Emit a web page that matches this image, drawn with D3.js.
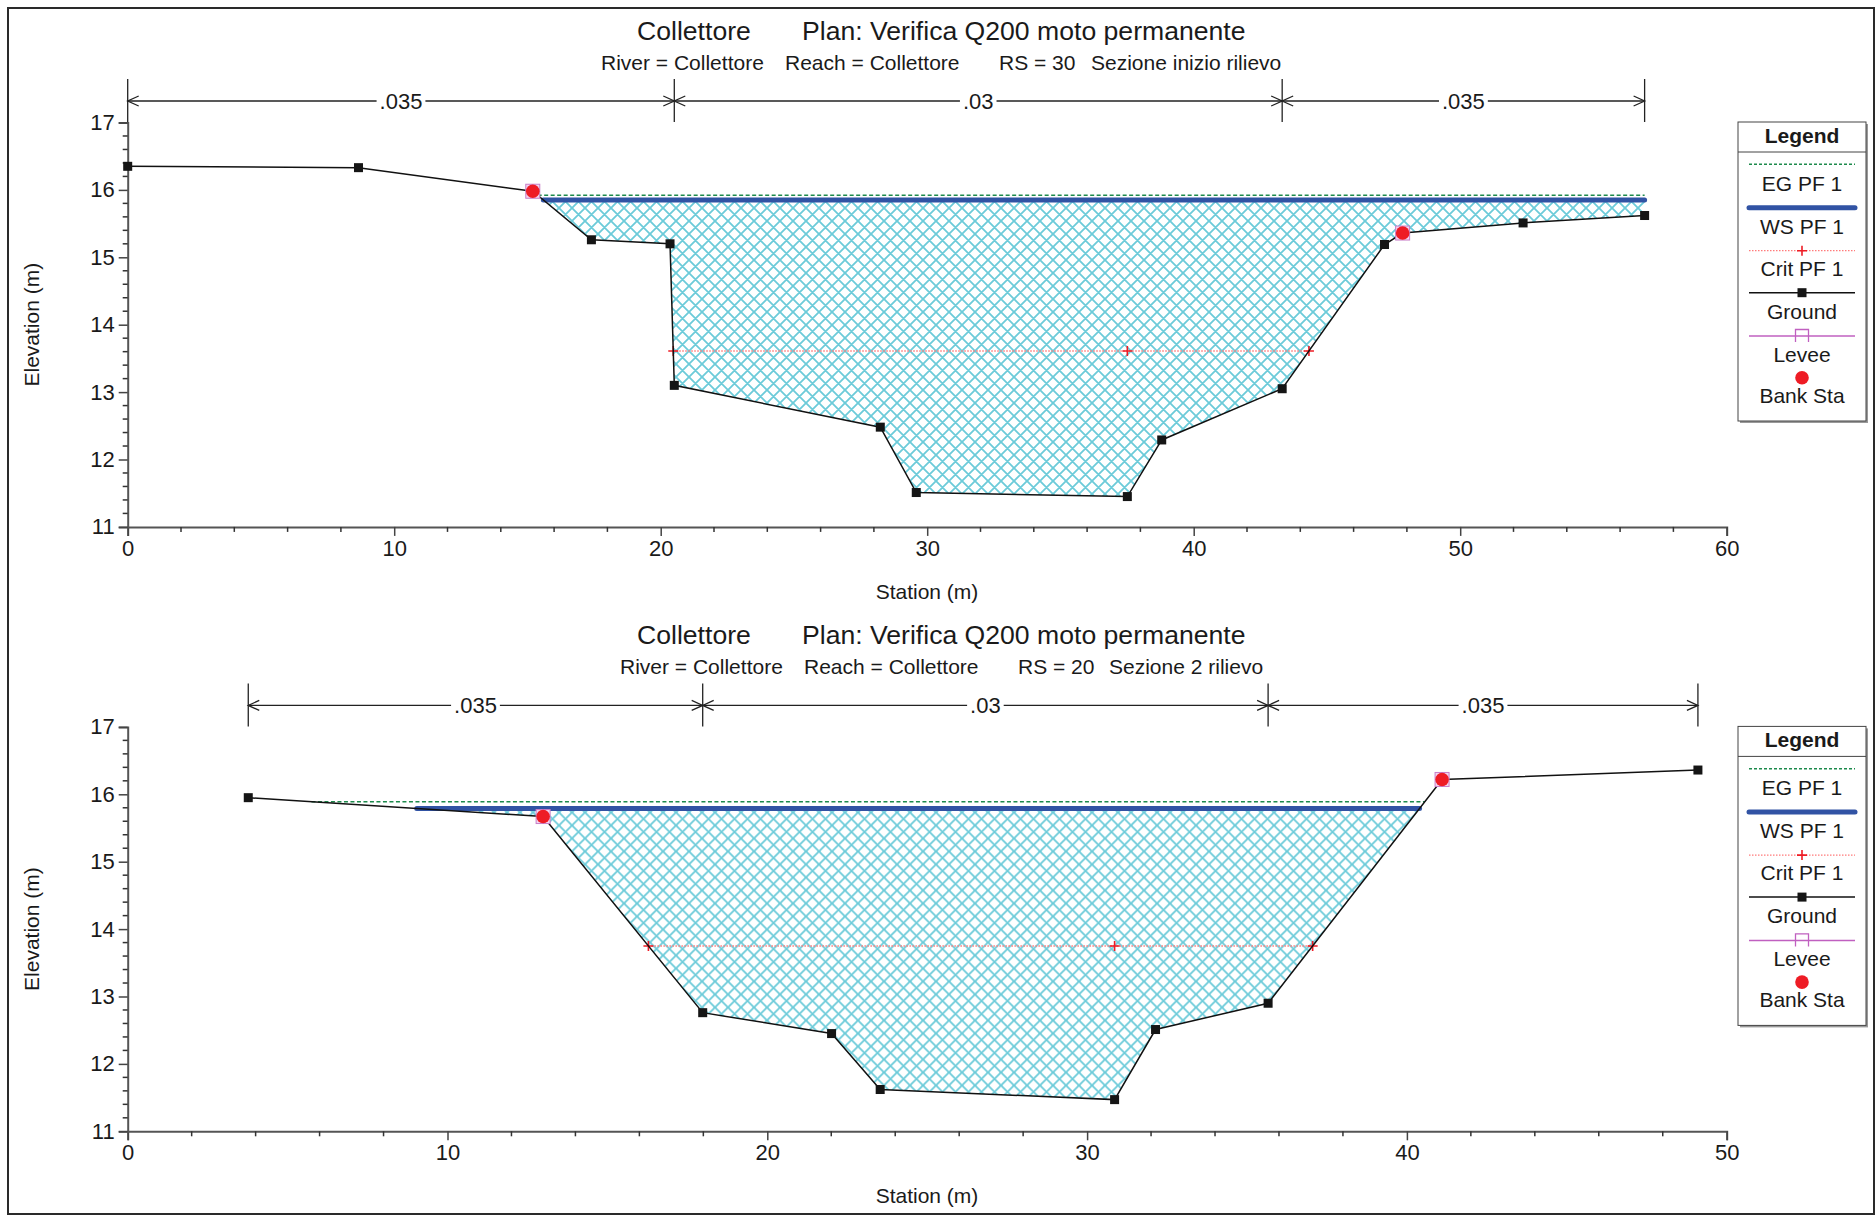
<!DOCTYPE html>
<html>
<head>
<meta charset="utf-8">
<script src="https://cdn.jsdelivr.net/npm/d3@7"></script>
<style>
  body { margin: 0; background: #fff; }
  svg { display: block; }
  text { font-family: "Liberation Sans", Arial, Helvetica, sans-serif; fill: #1a1a1a; }
</style>
</head>
<body>
<svg id="chart" width="1876" height="1216"></svg>
<script>
// ---------- Cross section RS 30 (Sezione inizio rilievo) ----------
const rs30Station = [0, 8.66, 15.2, 17.40, 20.35, 20.51, 28.24, 29.59, 37.51, 38.80, 43.32, 47.16, 47.84, 52.36, 56.92];
const rs30Elev    = [16.35, 16.33, 15.98, 15.26, 15.20, 13.10, 12.48, 11.51, 11.45, 12.29, 13.05, 15.19, 15.36, 15.51, 15.62];
const rs30Banks   = [15.2, 47.84];
const rs30NBreaks = [0, 20.51, 43.32, 56.92];
const rs30WS = 15.85;
const rs30EG = 15.92;
const rs30Crit = 13.61;
const rs30StationTicks = [0, 10, 20, 30, 40, 50, 60];

// ---------- Cross section RS 20 (Sezione 2 rilievo) ----------
const rs20Station = [3.77, 12.99, 17.98, 22.01, 23.53, 30.86, 32.14, 35.66, 41.10, 49.10];
const rs20Elev    = [15.95, 15.67, 12.76, 12.45, 11.62, 11.47, 12.51, 12.90, 16.22, 16.36];
const rs20Banks   = [12.99, 41.10];
const rs20NBreaks = [3.77, 17.98, 35.66, 49.10];
const rs20WS = 15.79;
const rs20EG = 15.89;
const rs20Crit = 13.75;
const rs20StationTicks = [0, 10, 20, 30, 40, 50];

// ---------- Shared ----------
const nValues = [".035", ".03", ".035"];
const elevTicks = [11, 12, 13, 14, 15, 16, 17];
const legendItems = ["EG PF 1", "WS PF 1", "Crit PF 1", "Ground", "Levee", "Bank Sta"];

const svg = d3.select("#chart");
const FONT = '"Liberation Sans", Arial, Helvetica, sans-serif';

// Cross-hatch for the wetted area
const defs = svg.append("defs");
const pat = defs.append("pattern")
  .attr("id", "hatch").attr("patternUnits", "userSpaceOnUse")
  .attr("width", 13).attr("height", 13);
pat.append("path")
  .attr("d", "M-6.5,6.5L6.5,-6.5M0,13L13,0M6.5,19.5L19.5,6.5M-6.5,6.5L6.5,19.5M0,0L13,13M6.5,-6.5L19.5,6.5")
  .attr("stroke", "#6ccbd9").attr("stroke-width", 1.8).attr("fill", "none");

// Outer frame
svg.append("rect").attr("x", 8).attr("y", 8).attr("width", 1866).attr("height", 1206)
  .attr("fill", "none").attr("stroke", "#2a2a2a").attr("stroke-width", 2);

// Ground points below a level, with crossing points, closed back at that level
function wetPolygon(st, el, lvl) {
  const pts = [];
  for (let i = 0; i < st.length; i++) {
    if (i > 0) {
      const a = el[i - 1], b = el[i];
      if ((a - lvl) * (b - lvl) < 0) {
        const t = (lvl - a) / (b - a);
        pts.push([st[i - 1] + t * (st[i] - st[i - 1]), lvl]);
      }
    }
    if (el[i] <= lvl) pts.push([st[i], el[i]]);
  }
  if (el[el.length - 1] < lvl) pts.push([st[st.length - 1], lvl]);
  if (el[0] < lvl) pts.unshift([st[0], lvl]);
  return pts;
}

function groundAt(st, el, s) {
  return d3.scaleLinear().domain(st).range(el)(s);
}

function drawPanel(cfg, top) {
  const g = svg.append("g").attr("transform", `translate(0,${top})`);
  const x = d3.scaleLinear().domain(cfg.xDomain).range([127.7, 1726.7]);
  const y = d3.scaleLinear().domain([11, 17]).range([526.9, 122.5]);
  const line = d3.line().x(d => x(d[0])).y(d => y(d[1]));
  const ground = cfg.station.map((s, i) => [s, cfg.elev[i]]);

  // Titles
  const t1 = g.append("text").attr("y", 40).attr("font-size", 26.6);
  t1.append("tspan").attr("x", 637).text("Collettore");
  t1.append("tspan").attr("x", 802).text("Plan: Verifica Q200 moto permanente");
  const t2 = g.append("text").attr("y", 70).attr("font-size", 21);
  cfg.subtitle.forEach(p => t2.append("tspan").attr("x", p[0]).text(p[1]));

  // Axes
  const xAxis = d3.axisBottom(x).tickValues(cfg.xTicks).tickSize(9).tickPadding(4).tickFormat(d3.format("d"));
  const gx = g.append("g").attr("transform", "translate(0,526.9)").call(xAxis);
  gx.selectAll(".tick text").attr("font-size", 22).attr("font-family", FONT).attr("fill", "#1a1a1a");
  gx.select(".domain").attr("stroke", "#555").attr("stroke-width", 2);
  gx.selectAll(".tick line").attr("stroke", "#444").attr("stroke-width", 1.5);
  const minorX = d3.range(cfg.xDomain[0], cfg.xDomain[1] + 0.001, 2).filter(v => v % 10 !== 0);
  gx.selectAll(".minor").data(minorX).join("line").attr("class", "minor")
    .attr("x1", d => x(d)).attr("x2", d => x(d)).attr("y1", 0).attr("y2", 5)
    .attr("stroke", "#333").attr("stroke-width", 1.5);

  const yAxis = d3.axisLeft(y).tickValues(elevTicks).tickSize(9).tickPadding(4).tickFormat(d3.format("d"));
  const gy = g.append("g").attr("transform", "translate(127.7,0)").call(yAxis);
  gy.selectAll(".tick text").attr("font-size", 22).attr("font-family", FONT).attr("fill", "#1a1a1a");
  gy.select(".domain").attr("stroke", "#555").attr("stroke-width", 2);
  gy.selectAll(".tick line").attr("stroke", "#444").attr("stroke-width", 1.5);
  const minorY = d3.range(11, 17.001, 0.2).filter(v => Math.abs(v - Math.round(v)) > 0.01);
  gy.selectAll(".minor").data(minorY).join("line").attr("class", "minor")
    .attr("x1", -5).attr("x2", 0).attr("y1", d => y(d)).attr("y2", d => y(d))
    .attr("stroke", "#333").attr("stroke-width", 1.5);

  g.append("text").attr("x", 927).attr("y", 599).attr("text-anchor", "middle")
    .attr("font-size", 21).text("Station (m)");
  g.append("text").attr("transform", "translate(39,324.7) rotate(-90)").attr("text-anchor", "middle")
    .attr("font-size", 21).text("Elevation (m)");

  // Manning's n bracket
  const by = 101;
  const br = cfg.nBreaks;
  br.forEach(s => {
    g.append("line").attr("x1", x(s)).attr("x2", x(s)).attr("y1", 79).attr("y2", 122)
      .attr("stroke", "#222").attr("stroke-width", 1.3);
  });
  for (let i = 0; i < br.length - 1; i++) {
    const xa = x(br[i]), xb = x(br[i + 1]), xm = (xa + xb) / 2;
    g.append("line").attr("x1", xa).attr("x2", xb).attr("y1", by).attr("y2", by)
      .attr("stroke", "#222").attr("stroke-width", 1.3);
    g.append("path").attr("d", `M${xa + 11},${by - 5}L${xa},${by}L${xa + 11},${by + 5}`)
      .attr("fill", "none").attr("stroke", "#222").attr("stroke-width", 1.3);
    g.append("path").attr("d", `M${xb - 11},${by - 5}L${xb},${by}L${xb - 11},${by + 5}`)
      .attr("fill", "none").attr("stroke", "#222").attr("stroke-width", 1.3);
    const lbl = g.append("text").attr("x", xm).attr("y", by + 8).attr("text-anchor", "middle")
      .attr("font-size", 22).text(nValues[i]);
    const bb = lbl.node().getBBox();
    g.insert("rect", () => lbl.node()).attr("x", bb.x - 3).attr("y", by - 3)
      .attr("width", bb.width + 6).attr("height", 6).attr("fill", "#fff");
  }

  // Wetted area
  const wet = wetPolygon(cfg.station, cfg.elev, cfg.ws);
  g.append("path").attr("d", line(wet) + "Z").attr("fill", "url(#hatch)").attr("stroke", "none");

  // Energy grade line
  const egPts = wetPolygon(cfg.station, cfg.elev, cfg.eg);
  g.append("line").attr("x1", x(egPts[0][0])).attr("x2", x(egPts[egPts.length - 1][0]))
    .attr("y1", y(cfg.eg)).attr("y2", y(cfg.eg))
    .attr("stroke", "#1d8a4c").attr("stroke-width", 1.6).attr("stroke-dasharray", "4,2.5");

  // Critical depth line
  const crPts = wetPolygon(cfg.station, cfg.elev, cfg.crit);
  const crL = crPts[0][0], crR = crPts[crPts.length - 1][0];
  g.append("line").attr("x1", x(crL)).attr("x2", x(crR))
    .attr("y1", y(cfg.crit)).attr("y2", y(cfg.crit))
    .attr("stroke", "#ff7b7b").attr("stroke-width", 1.5).attr("stroke-dasharray", "1.5,1.5");
  const thalweg = cfg.station[d3.minIndex(cfg.elev)];
  [crL, thalweg, crR].forEach(s => {
    const cx = x(s), cy = y(cfg.crit);
    g.append("path").attr("d", `M${cx - 5},${cy}H${cx + 5}M${cx},${cy - 5}V${cy + 5}`)
      .attr("stroke", "#ee1c25").attr("stroke-width", 1.6);
  });

  // Water surface
  g.append("line").attr("x1", x(wet[0][0])).attr("x2", x(wet[wet.length - 1][0]))
    .attr("y1", y(cfg.ws)).attr("y2", y(cfg.ws))
    .attr("stroke", "#3153a4").attr("stroke-width", 5).attr("stroke-linecap", "round");

  // Ground
  g.append("path").attr("d", line(ground)).attr("fill", "none")
    .attr("stroke", "#111").attr("stroke-width", 1.5);
  g.selectAll(".gpt").data(ground).join("rect").attr("class", "gpt")
    .attr("x", d => x(d[0]) - 4.5).attr("y", d => y(d[1]) - 4.5)
    .attr("width", 9).attr("height", 9).attr("fill", "#151515");

  // Bank stations
  cfg.banks.forEach(s => {
    const cx = x(s), cy = y(groundAt(cfg.station, cfg.elev, s));
    g.append("rect").attr("x", cx - 7).attr("y", cy - 7).attr("width", 14).attr("height", 14)
      .attr("fill", "#f3d6f0").attr("stroke", "#c77dc7").attr("stroke-width", 1);
    g.append("circle").attr("cx", cx).attr("cy", cy).attr("r", 6.8).attr("fill", "#ee1c25");
  });

  // Legend
  const lg = g.append("g");
  lg.append("rect").attr("x", 1740).attr("y", 124).attr("width", 128).attr("height", 299).attr("fill", "#999");
  lg.append("rect").attr("x", 1738).attr("y", 122).attr("width", 128).attr("height", 299)
    .attr("fill", "#fff").attr("stroke", "#444").attr("stroke-width", 1);
  lg.append("line").attr("x1", 1738).attr("x2", 1866).attr("y1", 152).attr("y2", 152)
    .attr("stroke", "#444").attr("stroke-width", 1);
  lg.append("text").attr("x", 1802).attr("y", 143).attr("text-anchor", "middle")
    .attr("font-size", 21).attr("font-weight", "bold").text("Legend");
  const cx = 1802, x1 = 1749, x2 = 1855;
  const rowY = [164.3, 207.7, 250.7, 292.7, 336, 377.7];
  const labY = [191, 233.5, 275.5, 318.5, 361.5, 403];
  // EG
  lg.append("line").attr("x1", x1).attr("x2", x2).attr("y1", rowY[0]).attr("y2", rowY[0])
    .attr("stroke", "#1d8a4c").attr("stroke-width", 1.6).attr("stroke-dasharray", "3,2");
  // WS
  lg.append("line").attr("x1", x1).attr("x2", x2).attr("y1", rowY[1]).attr("y2", rowY[1])
    .attr("stroke", "#3153a4").attr("stroke-width", 5).attr("stroke-linecap", "round");
  // Crit
  lg.append("line").attr("x1", x1).attr("x2", x2).attr("y1", rowY[2]).attr("y2", rowY[2])
    .attr("stroke", "#ff7b7b").attr("stroke-width", 1.3).attr("stroke-dasharray", "1.5,1.5");
  lg.append("path").attr("d", `M${cx - 5},${rowY[2]}H${cx + 5}M${cx},${rowY[2] - 5}V${rowY[2] + 5}`)
    .attr("stroke", "#ee1c25").attr("stroke-width", 1.6);
  // Ground
  lg.append("line").attr("x1", x1).attr("x2", x2).attr("y1", rowY[3]).attr("y2", rowY[3])
    .attr("stroke", "#111").attr("stroke-width", 1.5);
  lg.append("rect").attr("x", cx - 4.5).attr("y", rowY[3] - 4.5).attr("width", 9).attr("height", 9).attr("fill", "#151515");
  // Levee
  lg.append("line").attr("x1", x1).attr("x2", x2).attr("y1", rowY[4]).attr("y2", rowY[4])
    .attr("stroke", "#c060c0").attr("stroke-width", 1.5);
  lg.append("path").attr("d", `M${cx - 6.5},${rowY[4] + 6}V${rowY[4] - 6.5}H${cx + 6.5}V${rowY[4] + 6}`)
    .attr("fill", "none").attr("stroke", "#c060c0").attr("stroke-width", 1.3);
  // Bank Sta
  lg.append("circle").attr("cx", cx).attr("cy", rowY[5]).attr("r", 6.8).attr("fill", "#ee1c25");
  legendItems.forEach((t, i) => {
    lg.append("text").attr("x", cx).attr("y", labY[i]).attr("text-anchor", "middle")
      .attr("font-size", 21).text(t);
  });
}

drawPanel({
  xDomain: [0, 60], xTicks: rs30StationTicks,
  station: rs30Station, elev: rs30Elev, banks: rs30Banks, nBreaks: rs30NBreaks,
  ws: rs30WS, eg: rs30EG, crit: rs30Crit,
  subtitle: [[601, "River = Collettore"], [785, "Reach = Collettore"], [999, "RS = 30"], [1091, "Sezione inizio rilievo"]]
}, 0);

drawPanel({
  xDomain: [0, 50], xTicks: rs20StationTicks,
  station: rs20Station, elev: rs20Elev, banks: rs20Banks, nBreaks: rs20NBreaks,
  ws: rs20WS, eg: rs20EG, crit: rs20Crit,
  subtitle: [[620, "River = Collettore"], [804, "Reach = Collettore"], [1018, "RS = 20"], [1109, "Sezione 2 rilievo"]]
}, 604.4);
</script>
</body>
</html>
